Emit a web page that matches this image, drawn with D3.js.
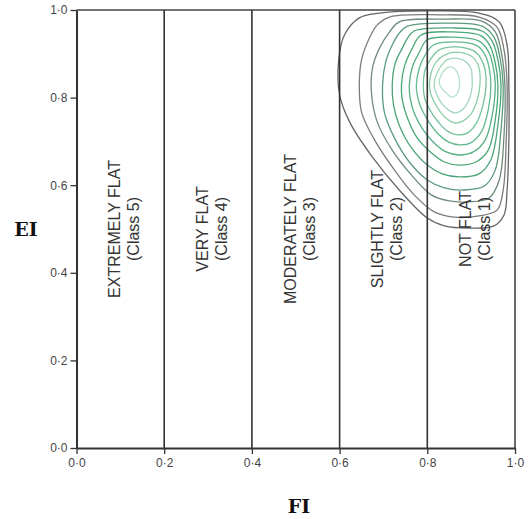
<!DOCTYPE html>
<html>
<head>
<meta charset="utf-8">
<script src="https://cdn.jsdelivr.net/npm/d3@7"></script>
<style>
  body { margin: 0; background: #fff; }
  svg { display: block; }
</style>
</head>
<body>
<svg id="chart" width="528" height="519"></svg>
<script>
// class boundaries on FI and the labels of each column
const classBounds = [0.2, 0.4, 0.6, 0.8];
const classNames = ['EXTREMELY FLAT', 'VERY FLAT', 'MODERATELY FLAT', 'SLIGHTLY FLAT', 'NOT FLAT'];
const classNums = ['(Class 5)', '(Class 4)', '(Class 3)', '(Class 2)', '(Class 1)'];
const tickValues = [0, 0.2, 0.4, 0.6, 0.8, 1.0];

// density contours, outermost first, as [FI, EI] points
const contour0 = [[.691,.993],[.805,.998],[.918,.993],[.964,.973],[.982,.920],[.986,.829],[.986,.703],[.982,.589],[.975,.532],[.952,.507],[.895,.502],[.839,.507],[.800,.525],[.736,.589],[.675,.664],[.623,.744],[.600,.806],[.598,.886],[.611,.943],[.645,.982]];
const contour1 = [[.714,.984],[.827,.989],[.918,.984],[.959,.961],[.975,.909],[.982,.829],[.980,.703],[.973,.589],[.959,.543],[.918,.530],[.861,.527],[.816,.539],[.770,.578],[.725,.635],[.680,.703],[.650,.767],[.645,.829],[.650,.886],[.668,.936],[.686,.966]];
const contour2 = [[.736,.973],[.839,.979],[.923,.975],[.955,.950],[.970,.897],[.977,.829],[.975,.715],[.964,.612],[.941,.571],[.895,.562],[.850,.564],[.809,.578],[.764,.623],[.720,.680],[.686,.744],[.673,.806],[.675,.868],[.691,.913],[.714,.950]];
const contour3 = [[.755,.963],[.850,.970],[.925,.963],[.952,.938],[.966,.890],[.973,.829],[.968,.726],[.955,.635],[.930,.598],[.884,.589],[.839,.594],[.800,.612],[.759,.653],[.725,.708],[.702,.767],[.698,.829],[.705,.881],[.720,.920],[.736,.947]];
const contour4 = [[.770,.952],[.855,.959],[.925,.952],[.948,.929],[.961,.886],[.968,.829],[.961,.737],[.945,.658],[.918,.626],[.873,.619],[.834,.626],[.800,.646],[.764,.685],[.736,.737],[.723,.783],[.720,.829],[.727,.879],[.743,.913],[.755,.936]];
const contour5 = [[.786,.943],[.857,.950],[.923,.941],[.943,.918],[.955,.879],[.961,.829],[.955,.749],[.939,.680],[.911,.653],[.873,.646],[.839,.653],[.809,.674],[.777,.708],[.755,.753],[.743,.795],[.741,.829],[.748,.872],[.764,.909]];
const contour6 = [[.800,.932],[.859,.938],[.918,.929],[.939,.906],[.950,.872],[.955,.829],[.948,.760],[.932,.703],[.905,.676],[.873,.669],[.843,.676],[.818,.694],[.791,.726],[.770,.765],[.761,.799],[.759,.829],[.766,.870],[.782,.904]];
const contour7 = [[.814,.920],[.861,.927],[.914,.918],[.932,.897],[.941,.868],[.945,.829],[.939,.772],[.923,.721],[.898,.696],[.873,.692],[.848,.699],[.825,.717],[.802,.747],[.784,.781],[.777,.806],[.775,.829],[.782,.868],[.795,.897]];
const contour8 = [[.827,.909],[.864,.916],[.907,.906],[.923,.888],[.932,.863],[.934,.829],[.927,.783],[.911,.740],[.891,.719],[.868,.715],[.845,.724],[.827,.742],[.809,.767],[.795,.795],[.791,.829],[.795,.863],[.809,.890]];
const contour9 = [[.839,.897],[.864,.904],[.900,.895],[.914,.879],[.920,.856],[.920,.829],[.914,.795],[.900,.763],[.882,.747],[.864,.742],[.845,.751],[.830,.767],[.816,.790],[.807,.811],[.805,.829],[.809,.858],[.820,.881]];
const contour10 = [[.845,.886],[.864,.890],[.889,.881],[.900,.865],[.902,.847],[.902,.822],[.895,.795],[.882,.774],[.864,.765],[.848,.772],[.834,.785],[.823,.804],[.816,.822],[.818,.845],[.830,.870]];
const contour11 = [[.841,.865],[.855,.870],[.868,.858],[.873,.840],[.873,.822],[.866,.806],[.855,.801],[.843,.811],[.832,.822],[.827,.836],[.832,.852]];
const contours = [contour0, contour1, contour2, contour3, contour4, contour5, contour6, contour7, contour8, contour9, contour10, contour11];

const contourColors = ['#666666', '#7c7c7c', '#6f8a7d', '#5c9b7d', '#4ea47a', '#4aa877', '#55b083', '#62b88e', '#76c29d', '#8ccdab', '#a2d7bb', '#b6e1cb'];

const svg = d3.select('#chart');
const plot = { left: 76.5, right: 515, top: 10, bottom: 448 };

const x = d3.scaleLinear().domain([0, 1]).range([plot.left, plot.right]);
const y = d3.scaleLinear().domain([0, 1]).range([plot.bottom, plot.top]);
const fmt = d => d3.format('.1f')(d).replace('.', '\u00b7');

// contours
const line = d3.line()
    .x(d => x(d[0]))
    .y(d => y(d[1]))
    .curve(d3.curveCatmullRomClosed.alpha(0.5));

svg.append('g')
    .selectAll('path')
    .data(contours)
    .join('path')
    .attr('d', line)
    .attr('fill', 'none')
    .attr('stroke', (d, i) => contourColors[i])
    .attr('stroke-width', 1.3);

// class boundaries and frame
svg.append('g')
    .selectAll('line')
    .data(classBounds)
    .join('line')
    .attr('x1', d => x(d)).attr('x2', d => x(d))
    .attr('y1', y(0)).attr('y2', y(1))
    .attr('stroke', '#333')
    .attr('stroke-width', 1.6);

svg.append('line')
    .attr('x1', x(0)).attr('x2', x(1)).attr('y1', y(1)).attr('y2', y(1))
    .attr('stroke', '#444').attr('stroke-width', 1.6);
svg.append('line')
    .attr('x1', x(1)).attr('x2', x(1)).attr('y1', y(0)).attr('y2', y(1))
    .attr('stroke', '#444').attr('stroke-width', 1.6);

// axes
const xAxis = svg.append('g')
    .attr('transform', `translate(0,${plot.bottom})`)
    .call(d3.axisBottom(x).tickValues(tickValues).tickFormat(fmt).tickSize(6).tickSizeOuter(0));
const yAxis = svg.append('g')
    .attr('transform', `translate(${plot.left},0)`)
    .call(d3.axisLeft(y).tickValues(tickValues).tickFormat(fmt).tickSize(6).tickSizeOuter(0));

[xAxis, yAxis].forEach(a => {
    a.select('.domain').attr('stroke', '#333').attr('stroke-width', 2);
    a.selectAll('.tick line').attr('stroke', '#333').attr('stroke-width', 1.3);
    a.selectAll('.tick text')
        .attr('fill', '#444')
        .style('font-family', '"Liberation Sans", Arial, sans-serif')
        .style('font-size', '12px');
});
xAxis.selectAll('.tick text').attr('dy', '0.85em');

// class labels, rotated
const mids = classBounds.concat([1]).map((b, i) => (b + (i === 0 ? 0 : classBounds[i - 1])) / 2);
const labels = svg.append('g')
    .style('font-family', '"Liberation Sans", Arial, sans-serif')
    .style('font-size', '16px')
    .attr('fill', '#333');

classNames.forEach((name, i) => {
    const g = labels.append('g')
        .attr('transform', `translate(${x(mids[i])},${y(0.5)}) rotate(-90)`);
    g.append('text').attr('text-anchor', 'middle').attr('y', 0).text(name);
    g.append('text').attr('text-anchor', 'middle').attr('y', 19).text(classNums[i]);
});

// axis titles
svg.append('text')
    .attr('x', 26).attr('y', 236)
    .attr('text-anchor', 'middle')
    .style('font-family', '"DejaVu Serif", "Liberation Serif", serif')
    .style('font-weight', 'bold')
    .style('font-size', '19px')
    .attr('fill', '#111')
    .text('EI');

svg.append('text')
    .attr('x', 299).attr('y', 513)
    .attr('text-anchor', 'middle')
    .style('font-family', '"DejaVu Serif", "Liberation Serif", serif')
    .style('font-weight', 'bold')
    .style('font-size', '19px')
    .attr('fill', '#111')
    .text('FI');
</script>
</body>
</html>
